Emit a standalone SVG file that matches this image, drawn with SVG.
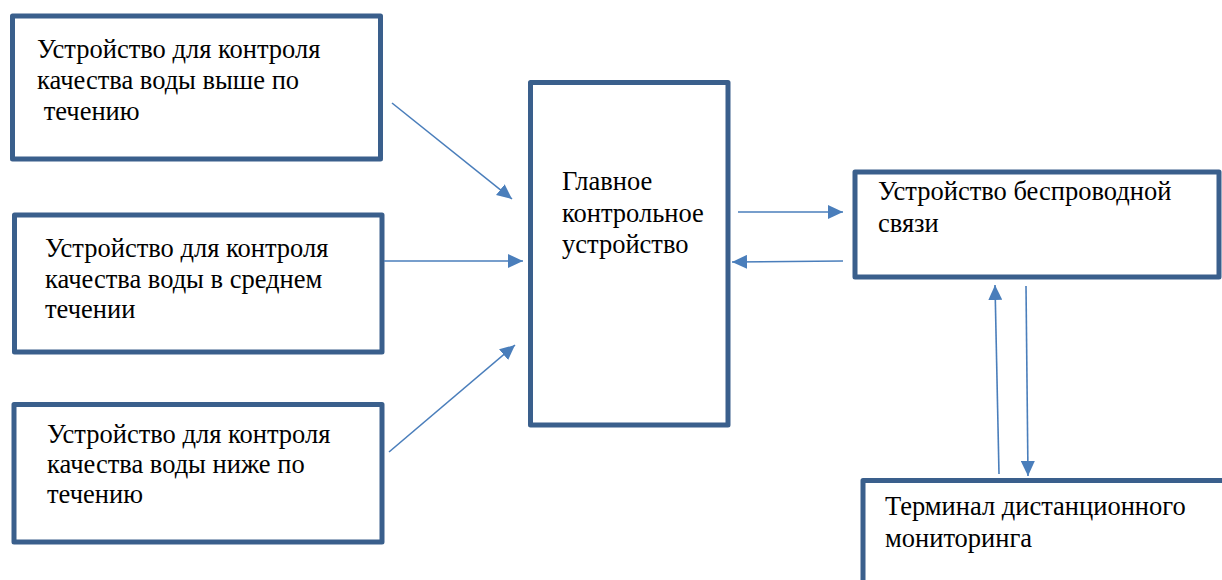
<svg xmlns="http://www.w3.org/2000/svg" width="1222" height="580" viewBox="0 0 1222 580">
<defs>
<style>
.box{fill:#ffffff;stroke:#3a5f8c;stroke-width:5;stroke-linejoin:round}
text{font-family:'Liberation Serif','Times New Roman','DejaVu Serif',serif;font-size:26.5px;fill:#000000}
.c{stroke:#4a7ebb;stroke-width:1.6;fill:none;marker-end:url(#ah)}
</style>
<marker id="ah" markerUnits="userSpaceOnUse" markerWidth="16" markerHeight="14" viewBox="0 0 16 14" refX="15" refY="7" orient="auto">
<path d="M0,0 L15,7 L0,14 Z" fill="#4a7ebb"/>
</marker>
</defs>
<rect width="1222" height="580" fill="#ffffff"/>
<g id="node-upstream">
<rect class="box" x="12.5" y="16" width="368" height="143"/>
<text x="37" y="58">Устройство для контроля</text>
<text x="37" y="89">качества воды выше по</text>
<text x="37" y="120" xml:space="preserve"> течению</text>
</g>
<g id="node-midstream">
<rect class="box" x="14.5" y="215" width="367.5" height="137"/>
<text x="45" y="257">Устройство для контроля</text>
<text x="45" y="288">качества воды в среднем</text>
<text x="45" y="318">течении</text>
</g>
<g id="node-downstream">
<rect class="box" x="14" y="404.5" width="368" height="137.5"/>
<text x="47" y="443">Устройство для контроля</text>
<text x="47" y="473">качества воды ниже по</text>
<text x="47" y="503">течению</text>
</g>
<g id="node-main">
<rect class="box" x="530.5" y="82.5" width="197.5" height="342.5"/>
<text x="562" y="190">Главное</text>
<text x="562" y="222">контрольное</text>
<text x="562" y="253">устройство</text>
</g>
<g id="node-wireless">
<rect class="box" x="855" y="172" width="364" height="105"/>
<text x="878" y="200">Устройство беспроводной</text>
<text x="878" y="232">связи</text>
</g>
<g id="node-terminal">
<rect class="box" x="863" y="480.5" width="365" height="110"/>
<text x="885" y="515">Терминал дистанционного</text>
<text x="885" y="547">мониторинга</text>
</g>
<g id="connectors">
<line class="c" x1="392" y1="103" x2="512" y2="199"/>
<line class="c" x1="384" y1="261" x2="523" y2="261"/>
<line class="c" x1="389" y1="452" x2="515" y2="345"/>
<line class="c" x1="738" y1="212" x2="843" y2="212"/>
<line class="c" x1="843" y1="261" x2="732" y2="262"/>
<line class="c" x1="999" y1="474" x2="995" y2="285"/>
<line class="c" x1="1026" y1="286" x2="1028" y2="476"/>
</g>
</svg>
